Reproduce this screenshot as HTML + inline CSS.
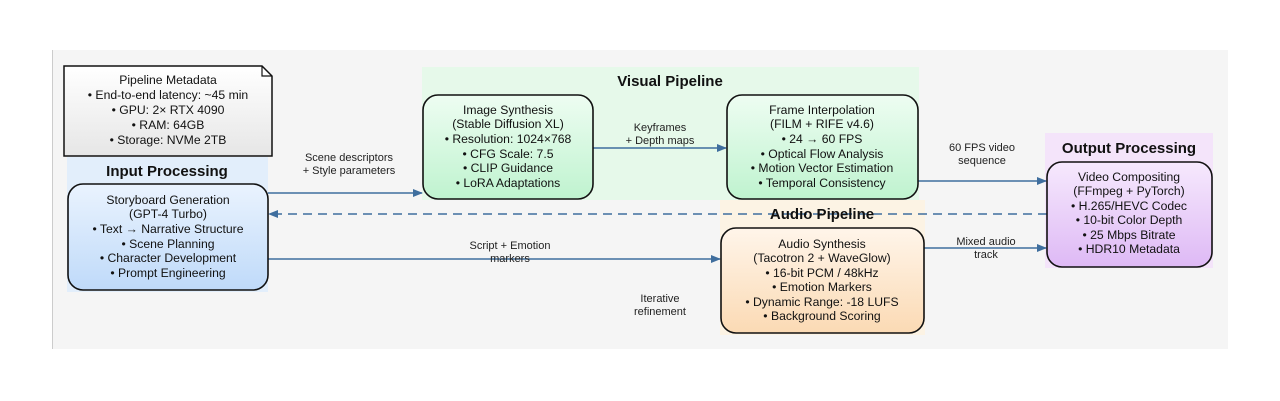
<!DOCTYPE html>
<html><head><meta charset="utf-8"><style>
html,body{margin:0;padding:0;background:#fff;}
svg{display:block;font-family:"Liberation Sans",Arial,sans-serif;}
.n{font-size:12.2px;fill:#111;text-anchor:middle;}
.l{font-size:11px;fill:#222;text-anchor:middle;}
.t{font-size:15px;font-weight:bold;fill:#111;text-anchor:middle;}
</style></head><body>
<svg width="1280" height="401" viewBox="0 0 1280 401" xmlns="http://www.w3.org/2000/svg">
<defs>
<linearGradient id="gb" x1="0" y1="0" x2="0" y2="1"><stop offset="0" stop-color="#eaf3fe"/><stop offset="1" stop-color="#bfdaf9"/></linearGradient>
<linearGradient id="gg" x1="0" y1="0" x2="0" y2="1"><stop offset="0" stop-color="#eefdf2"/><stop offset="1" stop-color="#bff3cf"/></linearGradient>
<linearGradient id="go" x1="0" y1="0" x2="0" y2="1"><stop offset="0" stop-color="#fff5ea"/><stop offset="1" stop-color="#fbdab4"/></linearGradient>
<linearGradient id="gp" x1="0" y1="0" x2="0" y2="1"><stop offset="0" stop-color="#f6e9fd"/><stop offset="1" stop-color="#deb9f5"/></linearGradient>
<linearGradient id="gw" x1="0" y1="0" x2="0" y2="1"><stop offset="0" stop-color="#ffffff"/><stop offset="1" stop-color="#e6e6e6"/></linearGradient>
<marker id="a" markerWidth="10" markerHeight="8" refX="9" refY="4" orient="auto" markerUnits="userSpaceOnUse"><path d="M0,0 L10,4 L0,8 z" fill="#3f6e9e"/></marker>
</defs>
<rect x="52" y="50" width="1176" height="299" fill="#f5f5f5"/>
<line x1="52.5" y1="50" x2="52.5" y2="349" stroke="#ccc"/>
<!-- clusters -->
<rect x="67" y="157" width="201" height="135" fill="#e2eefb"/>
<rect x="422" y="67" width="497" height="133" fill="#e6f9ea"/>
<rect x="720" y="200" width="205" height="135" fill="#fcf3e4"/>
<rect x="1045" y="133" width="168" height="135" fill="#f4e4fa"/>
<text class="t" x="167" y="176">Input Processing</text>
<text class="t" x="670" y="86">Visual Pipeline</text>
<text class="t" x="1129" y="153">Output Processing</text>
<!-- edges -->
<line x1="268" y1="193" x2="422" y2="193" stroke="#3f6e9e" stroke-width="1.6" marker-end="url(#a)"/>
<line x1="593" y1="148" x2="726" y2="148" stroke="#3f6e9e" stroke-width="1.6" marker-end="url(#a)"/>
<line x1="918" y1="181" x2="1046" y2="181" stroke="#3f6e9e" stroke-width="1.6" marker-end="url(#a)"/>
<line x1="924" y1="248" x2="1046" y2="248" stroke="#3f6e9e" stroke-width="1.6" marker-end="url(#a)"/>
<line x1="268" y1="259" x2="720" y2="259" stroke="#3f6e9e" stroke-width="1.6" marker-end="url(#a)"/>
<line x1="1047" y1="214" x2="269" y2="214" stroke="#3f6e9e" stroke-width="1.6" stroke-dasharray="9,6" marker-end="url(#a)"/>
<text class="t" x="822" y="219">Audio Pipeline</text>
<text class="l" x="349" y="161">Scene descriptors</text>
<text class="l" x="349" y="174">+ Style parameters</text>
<text class="l" x="660" y="131">Keyframes</text>
<text class="l" x="660" y="144">+ Depth maps</text>
<text class="l" x="982" y="151">60 FPS video</text>
<text class="l" x="982" y="164">sequence</text>
<text class="l" x="986" y="245">Mixed audio</text>
<text class="l" x="986" y="258">track</text>
<text class="l" x="510" y="249">Script + Emotion</text>
<text class="l" x="510" y="262">markers</text>
<text class="l" x="660" y="302">Iterative</text>
<text class="l" x="660" y="315">refinement</text>
<!-- metadata note -->
<path d="M64,66 L262,66 L272,76 L272,156 L64,156 Z" fill="url(#gw)" stroke="#111" stroke-width="1.5"/>
<path d="M262,66 L262,76 L272,76" fill="none" stroke="#111" stroke-width="1.2"/>
<text class="n" x="168" y="84">Pipeline Metadata</text>
<text class="n" x="168" y="99">• End-to-end latency: ~45 min</text>
<text class="n" x="168" y="114">• GPU: 2× RTX 4090</text>
<text class="n" x="168" y="129">• RAM: 64GB</text>
<text class="n" x="168" y="144">• Storage: NVMe 2TB</text>
<!-- nodes -->
<rect x="68" y="184" width="200" height="106" rx="15" fill="url(#gb)" stroke="#111" stroke-width="1.6"/>
<text class="n" x="168" y="204">Storyboard Generation</text>
<text class="n" x="168" y="218">(GPT-4 Turbo)</text>
<text class="n" x="168" y="233">• Text → Narrative Structure</text>
<text class="n" x="168" y="248">• Scene Planning</text>
<text class="n" x="168" y="262">• Character Development</text>
<text class="n" x="168" y="277">• Prompt Engineering</text>

<rect x="423" y="95" width="170" height="104" rx="15" fill="url(#gg)" stroke="#111" stroke-width="1.6"/>
<text class="n" x="508" y="114">Image Synthesis</text>
<text class="n" x="508" y="128">(Stable Diffusion XL)</text>
<text class="n" x="508" y="143">• Resolution: 1024×768</text>
<text class="n" x="508" y="158">• CFG Scale: 7.5</text>
<text class="n" x="508" y="172">• CLIP Guidance</text>
<text class="n" x="508" y="187">• LoRA Adaptations</text>

<rect x="727" y="95" width="191" height="104" rx="15" fill="url(#gg)" stroke="#111" stroke-width="1.6"/>
<text class="n" x="822" y="114">Frame Interpolation</text>
<text class="n" x="822" y="128">(FILM + RIFE v4.6)</text>
<text class="n" x="822" y="143">• 24 → 60 FPS</text>
<text class="n" x="822" y="158">• Optical Flow Analysis</text>
<text class="n" x="822" y="172">• Motion Vector Estimation</text>
<text class="n" x="822" y="187">• Temporal Consistency</text>

<rect x="721" y="228" width="203" height="105" rx="15" fill="url(#go)" stroke="#111" stroke-width="1.6"/>
<text class="n" x="822" y="248">Audio Synthesis</text>
<text class="n" x="822" y="262">(Tacotron 2 + WaveGlow)</text>
<text class="n" x="822" y="277">• 16-bit PCM / 48kHz</text>
<text class="n" x="822" y="291">• Emotion Markers</text>
<text class="n" x="822" y="306">• Dynamic Range: -18 LUFS</text>
<text class="n" x="822" y="320">• Background Scoring</text>

<rect x="1047" y="162" width="165" height="105" rx="15" fill="url(#gp)" stroke="#111" stroke-width="1.6"/>
<text class="n" x="1129" y="181">Video Compositing</text>
<text class="n" x="1129" y="195">(FFmpeg + PyTorch)</text>
<text class="n" x="1129" y="210">• H.265/HEVC Codec</text>
<text class="n" x="1129" y="224">• 10-bit Color Depth</text>
<text class="n" x="1129" y="239">• 25 Mbps Bitrate</text>
<text class="n" x="1129" y="253">• HDR10 Metadata</text>
</svg>
</body></html>
